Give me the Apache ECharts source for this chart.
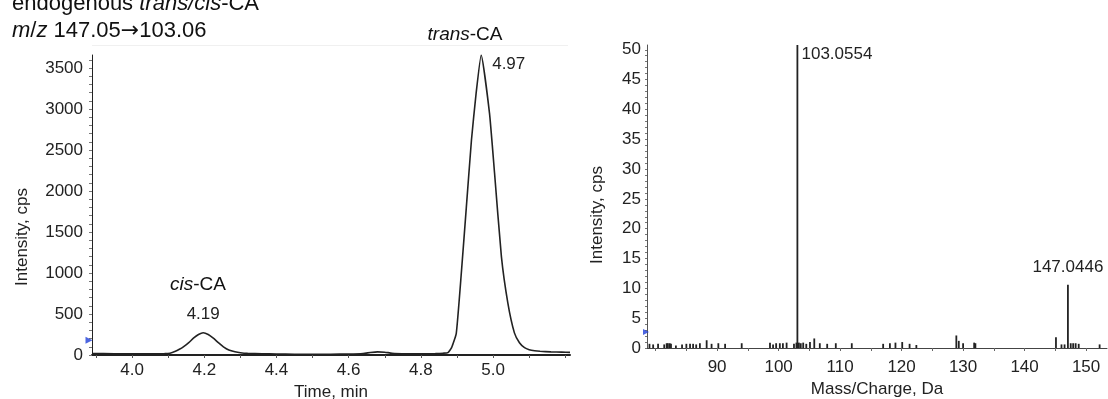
<!DOCTYPE html>
<html>
<head>
<meta charset="utf-8">
<title>trans/cis-CA</title>
<script src="https://cdn.jsdelivr.net/npm/echarts@6/dist/echarts.min.js"></script>
<style>
html, body { margin: 0; padding: 0; background: #fff; }
#chart { width: 1108px; height: 399px; }
</style>
</head>
<body>
<div id="chart"></div>
<script>
// XIC m/z 147.05 -> 103.06 (time in min, intensity in cps)
var xicTime = [3.889, 3.95, 4.00, 4.05, 4.09, 4.105, 4.12, 4.131, 4.142, 4.157, 4.17, 4.184, 4.197,
  4.211, 4.225, 4.239, 4.253, 4.268, 4.285, 4.30, 4.32, 4.36, 4.40, 4.45, 4.50, 4.55, 4.60, 4.64,
  4.66, 4.68, 4.70, 4.72, 4.76, 4.80, 4.84, 4.862, 4.875, 4.885, 4.898, 4.912, 4.926, 4.940, 4.953,
  4.967, 4.990, 5.004, 5.023, 5.041, 5.059, 5.073, 5.087, 5.10, 5.115, 5.13, 5.16, 5.19, 5.213];
var xicIntensity = [18, 16, 15, 15, 17, 22, 45, 70, 100, 150, 205, 250, 272,
  250, 205, 150, 100, 62, 40, 28, 20, 15, 12, 10, 10, 10, 12, 18,
  30, 38, 34, 22, 16, 15, 17, 22, 30, 90, 265, 1000, 1810, 2620, 3195,
  3660, 2950, 2220, 1200, 630, 270, 150, 90, 65, 52, 45, 38, 35, 32];
var xicPeakTime = [4.197, 4.967];
var xicPeakText = ['4.19', '4.97'];

// product ion spectrum (m/z, cps); 103.0554 is off scale
var msMz = [79.0, 79.6, 80.4, 81.4, 81.8, 82.0, 82.3, 82.5, 83.3, 84.3, 85.0, 85.6, 86.1, 86.6, 87.2,
  88.3, 89.1, 90.2, 91.3, 94.0, 98.6, 99.1, 99.6, 100.2, 100.7, 101.3, 102.5, 102.9, 103.0554,
  103.3, 103.6, 104.0, 104.5, 105.1, 105.8, 106.7, 107.9, 109.3, 111.9, 117.0, 118.1, 119.0,
  120.1, 121.3, 122.4, 128.9, 129.3, 130.0, 131.8, 132.0, 145.1, 146.0, 146.5, 147.0446, 147.5,
  147.9, 148.3, 148.8, 152.2];
var msIntensity = [0.7, 0.6, 0.7, 0.6, 0.8, 0.8, 0.8, 0.7, 0.4, 0.6, 0.7, 0.7, 0.7, 0.6, 0.8,
  1.3, 0.7, 0.8, 0.7, 0.8, 0.9, 0.6, 0.8, 0.8, 0.8, 0.9, 0.7, 0.9, 50.8,
  0.9, 0.8, 0.9, 0.7, 1.0, 1.6, 0.8, 0.7, 0.8, 0.8, 0.7, 0.8, 0.9,
  1.0, 0.7, 0.5, 2.1, 1.2, 0.8, 0.9, 0.8, 1.8, 0.6, 0.6, 10.6, 0.8,
  0.8, 0.8, 0.7, 0.6];
var msPeakMz = [103.0554, 147.0446];

var timeLabels = [4.0, 4.2, 4.4, 4.6, 4.8, 5.0];
var timeTicks = [3.9, 4.0, 4.1, 4.2, 4.3, 4.4, 4.5, 4.6, 4.7, 4.8, 4.9, 5.0, 5.1, 5.2];
var cpsLabels = [0, 500, 1000, 1500, 2000, 2500, 3000, 3500];
var mzLabels = [90, 100, 110, 120, 130, 140, 150];
var mzTicks = [80, 85, 90, 95, 100, 105, 110, 115, 120, 125, 130, 135, 140, 145, 150];
var msLabels = [0, 5, 10, 15, 20, 25, 30, 35, 40, 45, 50];

var font = 'Liberation Sans, Arial, sans-serif';
var ink = '#222';
var plain = function (v) { return String(v); };

var cpsTicks = [];
for (var c = 0; c <= 3600; c += 100) cpsTicks.push(c);
var msTicks = [];
for (var m = 0; m <= 50; m++) msTicks.push(m);

var xicData = xicTime.map(function (t, i) {
  var item = { value: [t, xicIntensity[i]] };
  var k = xicPeakTime.indexOf(t);
  if (k == 0) {
    item.label = { show: true, formatter: xicPeakText[k], position: 'top', distance: 10 };
  } else if (k == 1) {
    item.label = { show: true, formatter: xicPeakText[k], position: 'right', offset: [6, 9] };
  }
  return item;
});

var msData = msMz.map(function (mz, i) {
  var item = { value: [mz, msIntensity[i]] };
  var k = msPeakMz.indexOf(mz);
  if (k == 0) {
    item.label = { show: true, formatter: mz.toFixed(4), position: [5, 1], align: 'left', verticalAlign: 'top' };
  } else if (k == 1) {
    item.label = { show: true, formatter: mz.toFixed(4), position: 'top', distance: 9 };
  }
  return item;
});

var chart = echarts.init(document.getElementById('chart'));
chart.setOption({
  animation: false,
  textStyle: { fontFamily: font },
  grid: [
    { left: 92, right: 538, top: 55, bottom: 44, outerBoundsMode: 'none', containLabel: false },
    { left: 647, right: 1, top: 45, bottom: 51, outerBoundsMode: 'none', containLabel: false }
  ],
  xAxis: [{
    gridIndex: 0, type: 'value', min: 3.889, max: 5.213,
    name: 'Time, min', nameLocation: 'middle', nameGap: 23,
    nameTextStyle: { fontSize: 17, color: ink, fontFamily: font },
    axisLine: { lineStyle: { color: ink, width: 2 } },
    axisTick: { customValues: timeTicks, length: 3, lineStyle: { color: '#555' } },
    axisLabel: { customValues: timeLabels, fontSize: 17, color: ink, margin: 7,
      formatter: function (v) { return v.toFixed(1); } },
    splitLine: { show: false }
  }, {
    gridIndex: 1, type: 'value', min: 78.6, max: 153.4,
    name: 'Mass/Charge, Da', nameLocation: 'middle', nameGap: 33,
    nameTextStyle: { fontSize: 17, color: ink, fontFamily: font },
    axisLine: { lineStyle: { color: '#444', width: 1 } },
    axisTick: { customValues: mzTicks, length: 3, lineStyle: { color: '#666' } },
    axisLabel: { customValues: mzLabels, fontSize: 17, color: ink, margin: 11, formatter: plain },
    splitLine: { show: false }
  }],
  yAxis: [{
    gridIndex: 0, type: 'value', min: 0, max: 3660,
    axisLine: { show: true, lineStyle: { color: ink, width: 1 } },
    axisTick: { customValues: cpsTicks, length: 3, lineStyle: { color: '#777' } },
    axisLabel: { customValues: cpsLabels, fontSize: 17, color: ink, margin: 9, formatter: plain },
    splitLine: { show: false }
  }, {
    gridIndex: 1, type: 'value', min: 0, max: 50.8,
    axisLine: { show: true, lineStyle: { color: '#555', width: 1 } },
    axisTick: { customValues: msTicks, length: 2, lineStyle: { color: '#777' } },
    axisLabel: { customValues: msLabels, fontSize: 17, color: ink, margin: 6, formatter: plain },
    splitLine: { show: false }
  }],
  series: [{
    type: 'line', xAxisIndex: 0, yAxisIndex: 0,
    data: xicData, showSymbol: true, symbol: 'circle', symbolSize: 0.01, smooth: 0.15,
    lineStyle: { color: '#222', width: 1.6 },
    itemStyle: { color: '#222' },
    label: { fontSize: 17, color: ink, fontFamily: font }
  }, {
    type: 'bar', xAxisIndex: 1, yAxisIndex: 1,
    data: msData, barWidth: 1.8,
    itemStyle: { color: '#222' },
    label: { fontSize: 17, color: ink, fontFamily: font }
  }, {
    type: 'scatter', xAxisIndex: 0, yAxisIndex: 0, clip: false,
    data: [[3.889, 180]], symbol: 'triangle', symbolRotate: -90, symbolSize: 7,
    symbolOffset: [-3, 0], itemStyle: { color: '#1f3fd8' }
  }, {
    type: 'scatter', xAxisIndex: 1, yAxisIndex: 1, clip: false,
    data: [[78.6, 2.7]], symbol: 'triangle', symbolRotate: -90, symbolSize: 6,
    symbolOffset: [-1, 0], itemStyle: { color: '#1f3fd8' }
  }],
  graphic: [{
    type: 'line', shape: { x1: 92, y1: 45.5, x2: 568, y2: 45.5 },
    style: { stroke: '#f0f0f0', lineWidth: 1 }
  }, {
    type: 'text', x: 12, y: 4,
    style: { text: 'endogenous {i|trans/cis}-CA', font: '22px ' + font, fill: '#111', verticalAlign: 'middle',
      rich: { i: { fontStyle: 'italic', fontSize: 22, fontFamily: font } } }
  }, {
    type: 'text', x: 12, y: 31,
    style: { text: '{i|m}/{i|z} 147.05{a|\u2192}103.06', font: '22px ' + font, fill: '#111', verticalAlign: 'middle',
      rich: { i: { fontStyle: 'italic', fontSize: 22, fontFamily: font },
        a: { fontSize: 22, fontFamily: 'DejaVu Sans' } } }
  }, {
    type: 'text', x: 465, y: 35,
    style: { text: '{i|trans}-CA', font: '19px ' + font, fill: '#111', align: 'center', verticalAlign: 'middle',
      rich: { i: { fontStyle: 'italic', fontSize: 19, fontFamily: font } } }
  }, {
    type: 'text', x: 198, y: 285,
    style: { text: '{i|cis}-CA', font: '19px ' + font, fill: '#111', align: 'center', verticalAlign: 'middle',
      rich: { i: { fontStyle: 'italic', fontSize: 19, fontFamily: font } } }
  }, {
    type: 'text', x: 22, y: 237, rotation: Math.PI / 2,
    style: { text: 'Intensity, cps', font: '17px ' + font, fill: ink, align: 'center', verticalAlign: 'middle' }
  }, {
    type: 'text', x: 597, y: 215, rotation: Math.PI / 2,
    style: { text: 'Intensity, cps', font: '17px ' + font, fill: ink, align: 'center', verticalAlign: 'middle' }
  }]
});
</script>
</body>
</html>
